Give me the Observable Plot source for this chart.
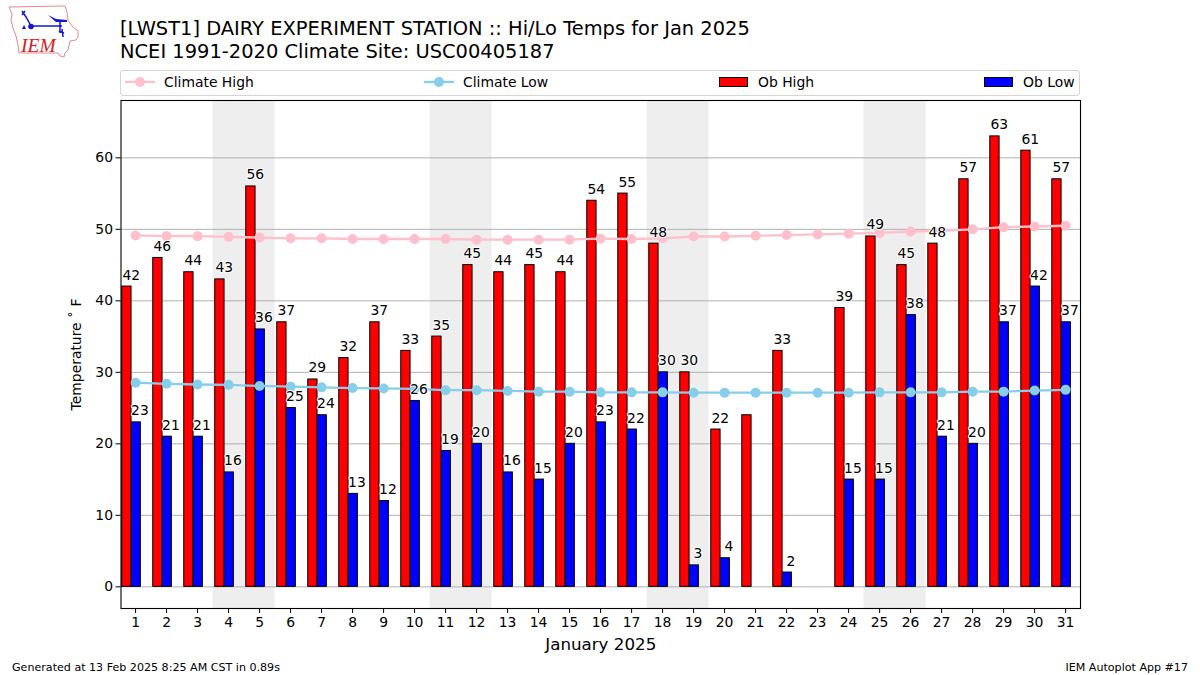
<!DOCTYPE html>
<html>
<head>
<meta charset="utf-8">
<script src="https://cdn.jsdelivr.net/npm/d3@7"></script>
<script src="https://cdn.jsdelivr.net/npm/@observablehq/plot@0.6"></script>
<style>
html,body{margin:0;padding:0;background:#fff;font-family:"DejaVu Sans",sans-serif;color:#000;}
#page{position:relative;width:1200px;height:675px;overflow:hidden;}
#title{position:absolute;left:120px;top:18px;font-size:19.45px;line-height:22.6px;white-space:pre;}
#legend{position:absolute;left:120px;top:70px;width:958px;height:24px;border:1px solid #d5d5d5;border-radius:3px;background:#fff;}
#legend svg{position:absolute;left:0;top:0;overflow:visible;}
#legend span{position:absolute;top:2.5px;font-size:13.9px;line-height:17px;white-space:pre;}
#chart{position:absolute;left:0;top:96px;}
#logo{position:absolute;left:0;top:0;}
.foot{position:absolute;top:661px;font-size:11.1px;line-height:13px;white-space:pre;}
g[aria-label="x-axis label"] text{font-size:16.7px;}
</style>
</head>
<body>
<div id="page">
  <svg id="logo" width="90" height="65" viewBox="0 0 90 65">
    <path d="M9 7 L65 6 L67 12 L68 20 L72 26 L78 31 L78 37 L76 40 L70 41 L68 50 L65 53 L64 57 L60 56 L58 53 L19 53 L18 45 L16 36 L13 28 L11 20 L12 14 Z" fill="none" stroke="#e58a8a" stroke-width="1"/>
    <path d="M31 26 L62 26 M22 11 L26 17 L31 26 M25 11 L22 15 M60 22 L60 33 M62 29 L63 37 M59 31 L64 33" fill="none" stroke="#1515d5" stroke-width="1.5"/>
    <path d="M48 15 L56 19 L67 20 L67 22 L56 22 Z" fill="#1515d5"/>
    <path d="M24 25 L26 29 L22 29 Z" fill="#1515d5"/>
    <circle cx="31" cy="26.5" r="2.8" fill="#1515d5"/>
    <text x="21" y="52" font-family="Liberation Serif" font-style="italic" font-size="19.5" fill="#d42020">IEM</text>
  </svg>
  <div id="title"></div>
  <div id="legend"></div>
  <div id="chart"></div>
  <div class="foot" id="footL" style="left:12px"></div>
  <div class="foot" id="footR" style="right:12px"></div>
</div>
<script>
const titleLines = ["[LWST1] DAIRY EXPERIMENT STATION :: Hi/Lo Temps for Jan 2025", "NCEI 1991-2020 Climate Site: USC00405187"];
const footLeft = "Generated at 13 Feb 2025 8:25 AM CST in 0.89s";
const footRight = "IEM Autoplot App #17";
const xLabel = "January 2025";
const yLabel = "Temperature ˚ F";

const days = [1,2,3,4,5,6,7,8,9,10,11,12,13,14,15,16,17,18,19,20,21,22,23,24,25,26,27,28,29,30,31];
const obHigh = [42,46,44,43,56,37,29,32,37,33,35,45,44,45,44,54,55,48,30,22,24,33,null,39,49,45,48,57,63,61,57];
const obLow = [23,21,21,16,36,25,24,13,12,26,19,20,16,15,20,23,22,30,3,4,null,2,null,15,15,38,21,20,37,42,37];
const climateHigh = [49.15,49.05,49.05,48.95,48.85,48.75,48.75,48.65,48.65,48.65,48.65,48.55,48.55,48.55,48.55,48.7,48.65,48.75,49.0,49.0,49.1,49.2,49.3,49.4,49.5,49.7,49.8,50.0,50.3,50.4,50.5];
const climateLow = [28.55,28.4,28.3,28.25,28.1,28.0,27.9,27.8,27.75,27.7,27.5,27.5,27.4,27.3,27.3,27.2,27.2,27.2,27.15,27.15,27.15,27.15,27.15,27.15,27.2,27.2,27.2,27.3,27.3,27.45,27.55];
const weekends = [[3.5,5.5],[10.5,12.5],[17.5,19.5],[24.5,26.5]];
const yTicks = [0,10,20,30,40,50,60];
const legendLabels = ["Climate High","Climate Low","Ob High","Ob Low"];

const highColor = "red", lowColor = "blue", climHighColor = "#ffc0cb", climLowColor = "#87ceeb";
const yMin = -3.03, yMax = 68.02;

document.getElementById("title").textContent = titleLines.join("\n");
document.getElementById("footL").textContent = footLeft;
document.getElementById("footR").textContent = footRight;

const rows = days.map((day,i)=>({day, high:obHigh[i], low:obLow[i], ch:climateHigh[i], cl:climateLow[i]}));
const highs = rows.filter(d=>d.high!=null);
const lows = rows.filter(d=>d.low!=null);

const plot = Plot.plot({
  width:1200, height:564,
  marginTop:4, marginBottom:52, marginLeft:120.5, marginRight:120,
  style:{fontFamily:"DejaVu Sans", fontSize:"13.9px", background:"transparent", color:"#000"},
  x:{domain:[0.53,31.48], label:null},
  y:{domain:[yMin,yMax], label:null},
  marks:[
    Plot.rect(weekends,{x1:d=>d[0], x2:d=>d[1], y1:yMin, y2:yMax, fill:"#eeeeee"}),
    Plot.gridY(yTicks,{stroke:"#b0b0b0", strokeOpacity:1, strokeWidth:1}),
    Plot.rect(highs,{x1:d=>d.day-0.43, x2:d=>d.day-0.13, y1:0, y2:"high", fill:highColor, stroke:"black", strokeWidth:1}),
    Plot.rect(lows,{x1:d=>d.day-0.13, x2:d=>d.day+0.17, y1:0, y2:"low", fill:lowColor, stroke:"black", strokeWidth:1}),
    Plot.line(rows,{x:"day", y:"ch", stroke:climHighColor, strokeWidth:2.3}),
    Plot.dot(rows,{x:"day", y:"ch", fill:climHighColor, r:5}),
    Plot.line(rows,{x:"day", y:"cl", stroke:climLowColor, strokeWidth:2.3}),
    Plot.dot(rows,{x:"day", y:"cl", fill:climLowColor, r:5}),
    Plot.text(highs.filter(d=>d.day!==21),{x:d=>d.day-0.14, y:"high", text:d=>String(d.high), lineAnchor:"bottom", dy:-7, fill:"black", stroke:"white", strokeWidth:2, fontSize:13.9}),
    Plot.text(lows,{x:d=>d.day+0.14, y:"low", text:d=>String(d.low), lineAnchor:"bottom", dy:-7, fill:"black", stroke:"white", strokeWidth:2, fontSize:13.9}),
    Plot.frame({stroke:"black", strokeWidth:1.1}),
    Plot.axisX({ticks:days, tickFormat:d=>String(d), tickSize:5, tickPadding:4, label:xLabel, labelAnchor:"center", labelArrow:"none", labelOffset:41}),
    Plot.axisY({ticks:yTicks, tickSize:5, tickPadding:3, label:yLabel, labelAnchor:"center", labelArrow:"none", labelOffset:50})
  ]
});
document.getElementById("chart").appendChild(plot);

// legend
const lg = document.getElementById("legend");
const sw = d3.create("svg").attr("width",958).attr("height",24);
const lineItems = [[legendLabels[0],4,climHighColor,43],[legendLabels[1],303,climLowColor,342]];
lineItems.forEach(([,x,c])=>{
  sw.append("line").attr("x1",x).attr("x2",x+30).attr("y1",11).attr("y2",11).attr("stroke",c).attr("stroke-width",2.3);
  sw.append("circle").attr("cx",x+15).attr("cy",11).attr("r",5).attr("fill",c);
});
const boxItems = [[legendLabels[2],598,highColor,637],[legendLabels[3],863,lowColor,902]];
boxItems.forEach(([,x,c])=>{
  sw.append("rect").attr("x",x+0.5).attr("y",6.5).attr("width",28).attr("height",9).attr("fill",c).attr("stroke","black").attr("stroke-width",1);
});
lg.appendChild(sw.node());
[...lineItems,...boxItems].forEach(([t,,,x])=>{
  const s=document.createElement("span"); s.textContent=t; s.style.left=x+"px"; lg.appendChild(s);
});
</script>
</body>
</html>
